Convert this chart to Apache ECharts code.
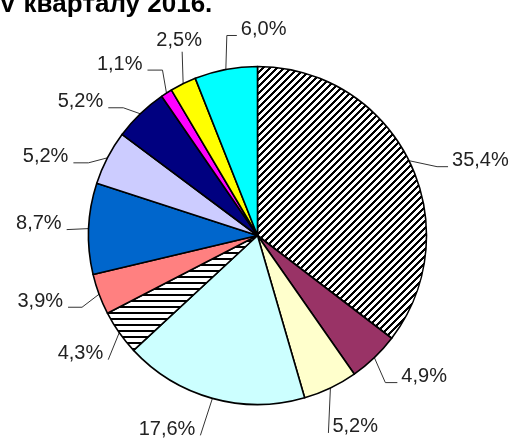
<!DOCTYPE html>
<html>
<head>
<meta charset="utf-8">
<script src="https://cdn.jsdelivr.net/npm/echarts@6/dist/echarts.min.js"></script>
<style>html,body{margin:0;padding:0;background:#fff}#c{width:514px;height:439px}</style>
</head>
<body>
<div id="c"></div>
<script>
const titleText = 'V кварталу 2016.';
const categories = ['A','B','C','D','E','F','G','H','I','J','K','L'];
const values = [35.4, 4.9, 5.2, 17.6, 4.3, 3.9, 8.7, 5.2, 5.2, 1.1, 2.5, 6.0];

// leader-line layout per slice: elbow offset from slice edge [dx,dy], horizontal tail, text mode
const leaderElbow = [[28,6],[11,25],[-2,45],[-12,37],[-11,27],[-17,13],[-22,1],[-19,5],[-17,-6],[-4,-23],[-1,-32],[1,-34]];
const leaderTail = [11,12,0,0,0,-14,0,-15,-15,-15,0,10];
const leaderMode = ['r','r','r','l','l','l','l','l','l','l','t','r'];

const CX = 257.5, CY = 235.5, R = 169;

function hatch(kind) {
  const c = document.createElement('canvas');
  const s = kind === 'diag' ? 7 : 6;
  c.width = s; c.height = s;
  const g = c.getContext('2d');
  g.fillStyle = '#fff'; g.fillRect(0, 0, s, s);
  g.fillStyle = '#000';
  for (let y = 0; y < s; y++) {
    for (let x = 0; x < s; x++) {
      const on = kind === 'diag' ? ((x + y) % s) < 3 : (y % s) < 2;
      if (on) g.fillRect(x, y, 1, 1);
    }
  }
  return { image: c, repeat: 'repeat' };
}

const colors = [hatch('diag'), '#993366', '#FFFFCC', '#CCFFFF', hatch('horz'), '#FF8080',
  '#0066CC', '#CCCCFF', '#000080', '#FF00FF', '#FFFF00', '#00FFFF'];

const total = values.reduce((a, b) => a + b, 0);
function edgePoint(i) {
  let before = 0;
  for (let k = 0; k < i; k++) before += values[k];
  const a = (before + values[i] / 2) / total * Math.PI * 2;
  return [CX + R * Math.sin(a), CY - R * Math.cos(a)];
}

const chart = echarts.init(document.getElementById('c'), null, {renderer: 'canvas'});
chart.setOption({
  animation: false,
  graphic: [{
    type: 'text', left: -1, top: -8,
    style: { text: titleText, font: 'bold 26px "Liberation Sans", Arial, sans-serif', fill: '#000' }
  }],
  series: [{
    type: 'pie',
    center: [CX, CY],
    radius: R,
    startAngle: 90,
    clockwise: true,
    avoidLabelOverlap: false,
    data: categories.map((n, i) => ({ name: n, value: values[i], itemStyle: { color: colors[i] } })),
    itemStyle: { borderColor: '#000', borderWidth: 1.6 },
    label: {
      show: true,
      formatter: p => p.value.toFixed(1).replace('.', ',') + '%',
      fontFamily: '"Liberation Sans", Arial, sans-serif',
      fontSize: 20,
      color: '#222'
    },
    labelLine: { show: true, length: 12, length2: 10, lineStyle: { color: '#333', width: 1 } },
    labelLayout: function (params) {
      const i = params.dataIndex;
      const p0 = (params.labelLinePoints && params.labelLinePoints[0]) || edgePoint(i);
      const e = leaderElbow[i];
      const p1 = [p0[0] + e[0], p0[1] + e[1]];
      const p2 = [p1[0] + leaderTail[i], p1[1]];
      const m = leaderMode[i];
      let out;
      if (m === 't') {
        out = { x: p2[0] - 3, y: p2[1] - 1, align: 'center', verticalAlign: 'bottom' };
      } else if (m === 'r') {
        out = { x: p2[0] + 4, y: p2[1] - 6, align: 'left', verticalAlign: 'middle' };
      } else {
        out = { x: p2[0] - 5, y: p2[1] - 6, align: 'right', verticalAlign: 'middle' };
      }
      out.labelLinePoints = [[p0[0], p0[1]], p1, p2];
      return out;
    },
    emphasis: { disabled: true }
  }]
});
</script>
</body>
</html>
